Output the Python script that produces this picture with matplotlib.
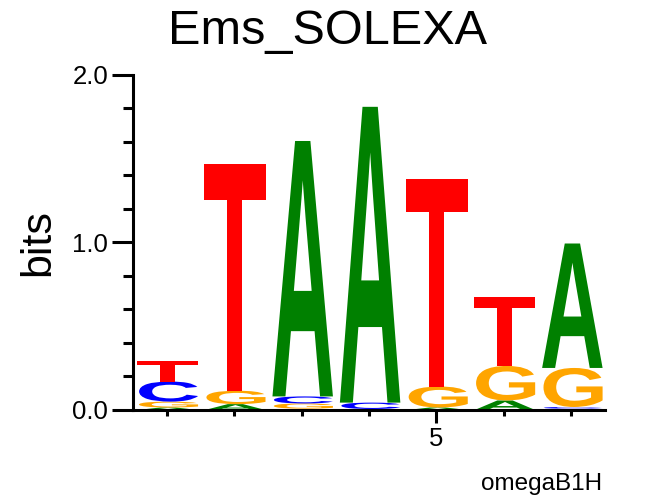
import numpy as np
import matplotlib
matplotlib.use("Agg")
import matplotlib.pyplot as plt
from matplotlib.textpath import TextPath
from matplotlib.patches import PathPatch
from matplotlib.font_manager import FontProperties
from matplotlib.transforms import Affine2D

# information content (bits) per base, per position
positions = [1, 2, 3, 4, 5, 6, 7]
bits_A = [0.015, 0.035, 1.525, 1.766, 0.015, 0.057, 0.743]
bits_C = [0.120, 0.000, 0.042, 0.038, 0.000, 0.000, 0.010]
bits_G = [0.035, 0.080, 0.031, 0.003, 0.125, 0.206, 0.233]
bits_T = [0.120, 1.355, 0.008, 0.003, 1.240, 0.412, 0.008]

base_colors = {"A": "#008000", "C": "#0000ff", "G": "#ffa500", "T": "#ff0000"}

title = "Ems_SOLEXA"
footer = "omegaB1H"

letter_font = FontProperties(family="Liberation Sans", weight="bold")
text_font = "Liberation Sans"


def draw_letter(ax, ch, x, y0, width, height, color):
    """Stretch a glyph so it fills the box [x-w/2, x+w/2] x [y0, y0+h]."""
    if height <= 0:
        return
    tp = TextPath((0, 0), ch, size=1, prop=letter_font)
    verts = tp.vertices
    xmin, ymin = verts.min(axis=0)
    xmax, ymax = verts.max(axis=0)
    tr = (Affine2D()
          .translate(-xmin, -ymin)
          .scale(width / (xmax - xmin), height / (ymax - ymin))
          .translate(x - width / 2, y0))
    path = tr.transform_path(tp)
    ax.add_patch(PathPatch(path, facecolor=color, edgecolor="none", lw=0))


fig = plt.figure(figsize=(6.54, 4.96), dpi=100)
ax = fig.add_axes([0.2034, 0.1734, 0.925 - 0.2034, 0.8488 - 0.1734])

for i, pos in enumerate(positions):
    col = {"A": bits_A[i], "C": bits_C[i], "G": bits_G[i], "T": bits_T[i]}
    y = 0.0
    for base, h in sorted(col.items(), key=lambda kv: kv[1]):
        draw_letter(ax, base, pos, y, 0.93, h, base_colors[base])
        y += h

ax.set_xlim(0.5, 7.5)
ax.set_ylim(0, 2.0)

for side in ["top", "right"]:
    ax.spines[side].set_visible(False)
for side in ["left", "bottom"]:
    ax.spines[side].set_linewidth(2.2)

ax.set_yticks([0, 1, 2])
ax.set_yticklabels(["0.0", "1.0", "2.0"])
ax.set_yticks(np.arange(0, 2.01, 0.2), minor=True)
ax.set_xticks([5])
ax.set_xticklabels(["5"])
ax.set_xticks(positions, minor=True)

ax.tick_params(axis="y", which="major", length=15, width=2.2, labelsize=18.5, pad=3)
ax.tick_params(axis="y", which="minor", length=7.5, width=2.2)
ax.tick_params(axis="x", which="major", length=9, width=2.2, labelsize=18.5, pad=3)
ax.tick_params(axis="x", which="minor", length=4, width=2.2)
for lab in ax.get_xticklabels() + ax.get_yticklabels():
    lab.set_family(text_font)

ax.set_ylabel("bits", fontsize=31, family=text_font, labelpad=10)

fig.text(0.5, 0.912, title, ha="center", va="baseline", fontsize=35, family=text_font)
fig.text(0.921, 0.012, footer, ha="right", va="baseline", fontsize=17.5, family=text_font)

fig.savefig("out.png", dpi=100)
